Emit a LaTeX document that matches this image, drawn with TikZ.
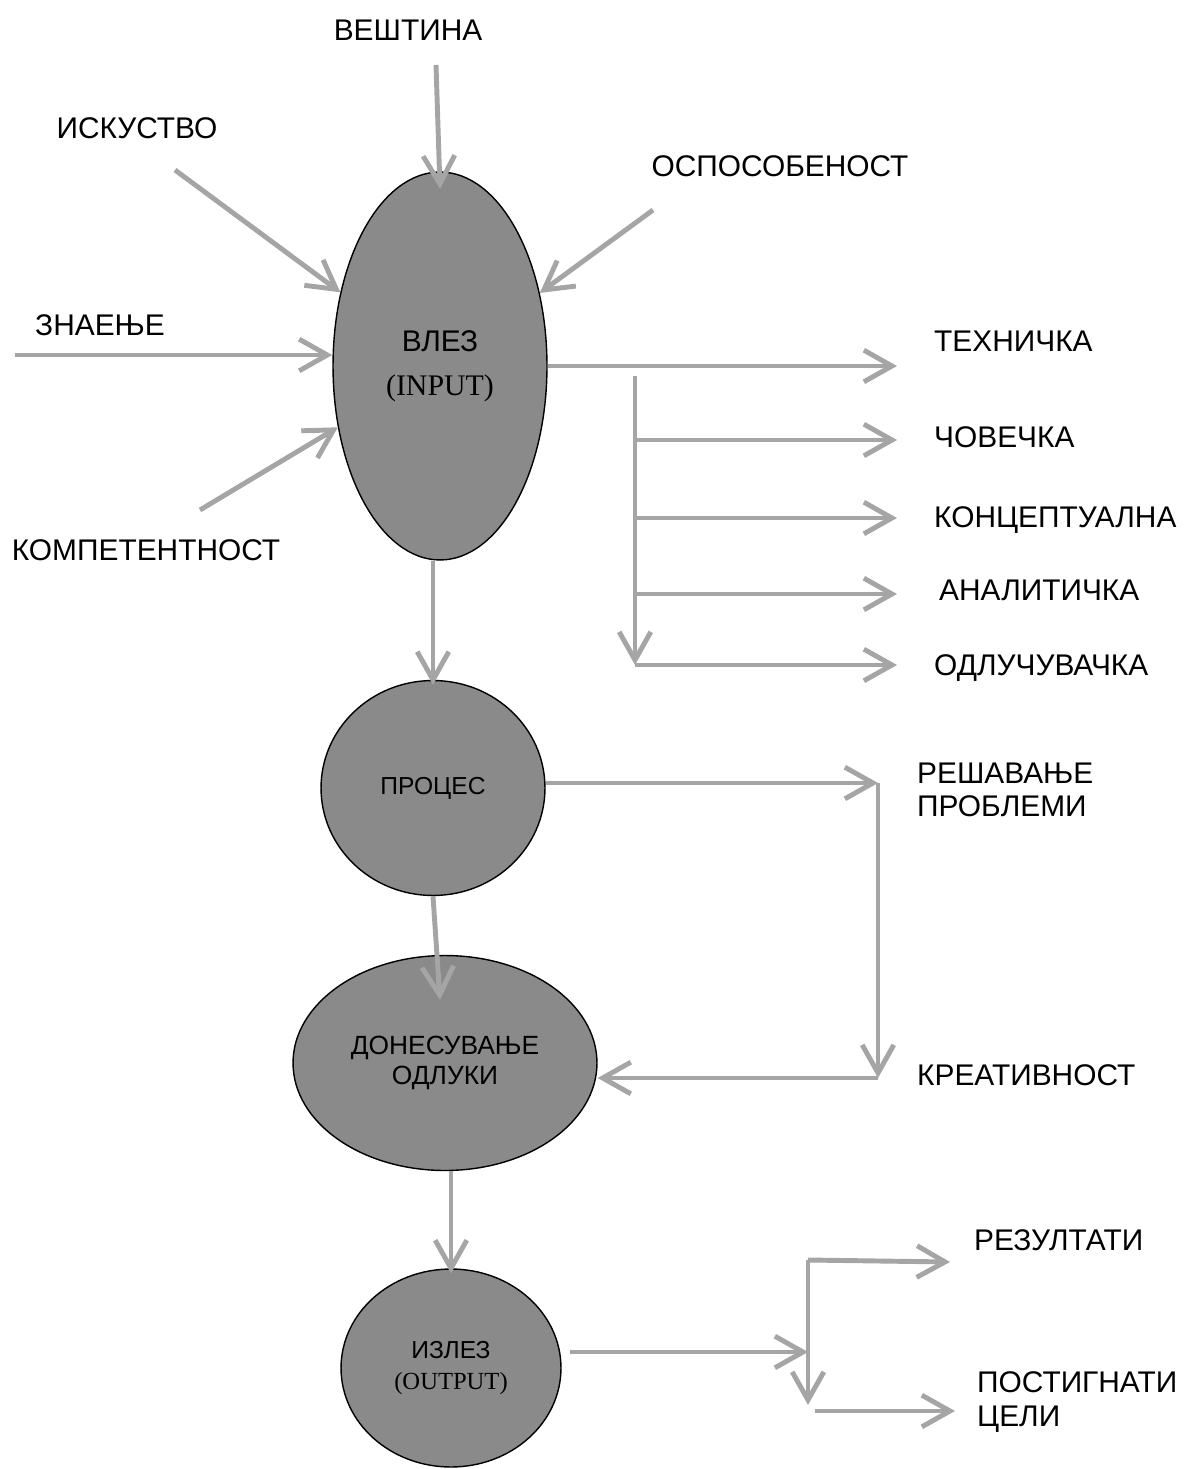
\documentclass[tikz,border=0pt]{standalone}
\usepackage{fontspec}
\setmainfont{Liberation Sans}
\newfontfamily\serifpart{Liberation Serif}
\usetikzlibrary{shapes.geometric,arrows.meta}
\definecolor{blobgray}{RGB}{138,138,138}
\definecolor{linegray}{RGB}{165,165,165}

\begin{document}
\begin{tikzpicture}[x=0.02cm,y=-0.02cm,->,>={Straight Barb[length=16pt,width=18pt]},
    every edge/.style={draw=linegray,line width=2.8pt},
    blob/.style={ellipse,draw=black,line width=0.8pt,fill=blobgray,align=center,inner sep=0pt},
    lbl/.style={font=\fontsize{17}{19}\selectfont,align=left}]
            \useasboundingbox (0,0) rectangle (1187,1469);

            \node[blob,minimum width=4.28cm,minimum height=7.76cm,font=\fontsize{17}{25}\selectfont] (in) at (440,366) {ВЛЕЗ\\{\serifpart (INPUT)}};
            \node[blob,minimum width=4.48cm,minimum height=4.3cm,font=\fontsize{14}{17}\selectfont] (pr) at (433,788) {ПРОЦЕС};
            \node[blob,minimum width=6.08cm,minimum height=4.3cm,font=\fontsize{15}{17}\selectfont] (do) at (445,1063) {ДОНЕСУВАЊЕ\\ОДЛУКИ};
            \node[blob,minimum width=4.4cm,minimum height=3.96cm,font=\fontsize{14}{17.5}\selectfont] (iz) at (451,1368) {ИЗЛЕЗ\\{\serifpart (OUTPUT)}};

            \node[lbl] (ves) at (408,30) {ВЕШТИНА};
            \node[lbl] (isk) at (137,128) {ИСКУСТВО};
            \node[lbl] (osp) at (780,166) {ОСПОСОБЕНОСТ};
            \node[lbl] (zna) at (100,325) {ЗНАЕЊЕ};
            \node[lbl] (kom) at (146,550) {КОМПЕТЕНТНОСТ};

            \node[lbl,anchor=west] (teh) at (928,341) {ТЕХНИЧКА};
            \node[lbl,anchor=west] (cov) at (928,437) {ЧОВЕЧКА};
            \node[lbl,anchor=west] (kon) at (928,520) {КОНЦЕПТУАЛНА};
            \node[lbl,anchor=west] (ana) at (933,590) {АНАЛИТИЧКА};
            \node[lbl,anchor=west] (odl) at (928,668) {ОДЛУЧУВАЧКА};
            \node[lbl,anchor=west] (res) at (911,790) {РЕШАВАЊЕ\\ПРОБЛЕМИ};
            \node[lbl,anchor=west] (kre) at (911,1075) {КРЕАТИВНОСТ};
            \node[lbl,anchor=west] (rez) at (968,1240) {РЕЗУЛТАТИ};
            \node[lbl,anchor=west] (pos) at (971,1402) {ПОСТИГНАТИ\\ЦЕЛИ};

            % free ends of the arrows
            \coordinate (veS) at (436,65);
            \coordinate (isS) at (175,170);
            \coordinate (osS) at (653,210);
            \coordinate (znS) at (15,355);
            \coordinate (koS) at (200,510);

            \coordinate (teE) at (897,366);
            \coordinate (b0) at (635,376);
            \coordinate (b1) at (635,440);
            \coordinate (b2) at (635,518);
            \coordinate (b3) at (635,594);
            \coordinate (b4) at (635,665);

            \coordinate (rp) at (878,783);
            \coordinate (kr) at (878,1078);

            \coordinate (ov) at (808,1352);
            \coordinate (oTop) at (808,1260);
            \coordinate (oBot) at (808,1405);
            \coordinate (rzE) at (950,1262);
            \coordinate (psS) at (815,1411);
            \coordinate (psE) at (955,1411);

            \path
                (veS) edge ([yshift=-0.35cm]in.north)
                (isS) edge (in)
                (osS) edge (in)
                (znS) edge (znS -| in.west)
                (koS) edge (in)

                (in.east) edge (teE)
                (b0) edge (b4)
                (b1) edge (b1 -| teE)
                (b2) edge (b2 -| teE)
                (b3) edge (b3 -| teE)
                (b4) edge (b4 -| teE)

                (pr.north |- in.south) edge ([yshift=-0.1cm]pr.north)
                (pr.east |- rp) edge (rp)
                (rp) edge (kr)
                (kr) edge (kr -| do.east)
                (pr.south) edge ([xshift=-0.1cm,yshift=-0.9cm]do.north)
                (iz.north |- do.south) edge ([yshift=-0.1cm]iz.north)

                ([xshift=0.16cm]iz.east |- ov) edge (ov)
                (oTop) edge (oBot)
                (oTop) edge (rzE)
                (psS) edge (psE)
                ;
        \end{tikzpicture}
\end{document}
